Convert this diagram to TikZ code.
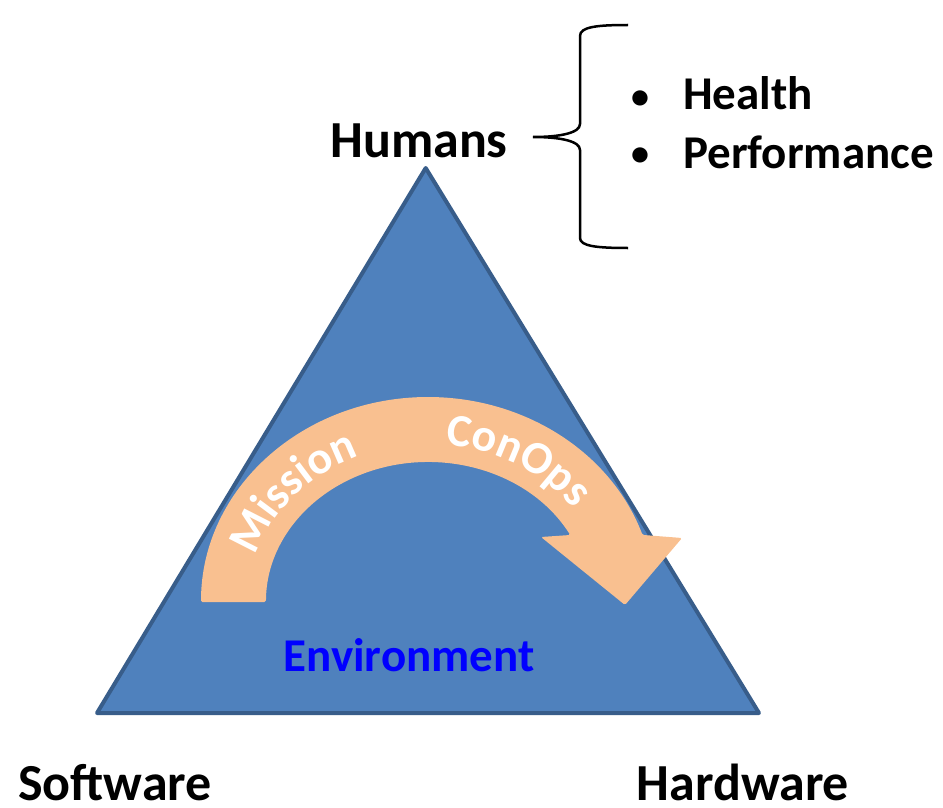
\documentclass[tikz,border=0pt]{standalone}
\usepackage{fontspec}
\setmainfont{Carlito}
\usetikzlibrary{decorations.text}

\definecolor{triFill}{RGB}{79,129,189}
\definecolor{triEdge}{RGB}{56,93,138}
\definecolor{arrowFill}{RGB}{249,192,144}
\definecolor{envBlue}{RGB}{0,0,255}

\newcommand\arcfont{\fontsize{46}{54}\selectfont\bfseries}

\tikzset{
  cornerlabel/.style={font=\fontsize{52}{60}\selectfont\bfseries, inner sep=0pt, anchor=base},
  listitem/.style={font=\fontsize{47}{56}\selectfont\bfseries, inner sep=0pt, anchor=base west},
  bulletmark/.style={font=\fontsize{36}{44}\selectfont\bfseries, inner sep=0pt, anchor=base},
  envlabel/.style={font=\fontsize{47}{56}\selectfont\bfseries, text=envBlue, inner sep=0pt, anchor=base},
  triangle/.style={fill=triFill, draw=triEdge, line width=4pt, line join=round},
  bandarrow/.style={fill=arrowFill, rounded corners=1.5pt},
  arctext/.style={decorate, decoration={text along path, text align=center, text color=white}},
  bracket/.style={draw=black, line width=2.5pt}
}

\begin{document}
\begin{tikzpicture}[x=1pt,y=1pt]
\useasboundingbox (0,0) rectangle (943,-808);

% vertices of the triangle
\coordinate (top) at (425.7,-168);
\coordinate (br) at (759,-713);
\coordinate (bl) at (97,-713);
\draw[triangle] (top) -- (br) -- (bl) -- cycle;

% curved arrow across the triangle
\coordinate (arcC) at (428,-602);
\path[bandarrow] (201,-602)
  arc[start angle=180, end angle=19.1, x radius=227, y radius=205]
  -- (682,-538) -- (625,-605) -- (541,-537) -- (570.2,-535)
  arc[start angle=28.6, end angle=180, x radius=162, y radius=140] -- cycle;

% words set along the arrow
\path[arctext, decoration={text={|\arcfont|Mission}}]
  (arcC) ++(168:180 and 158)
  arc[start angle=168, end angle=108, x radius=180, y radius=158];
\path[arctext, decoration={text={|\arcfont|ConOps}}]
  (arcC) ++(90:180 and 158)
  arc[start angle=90, end angle=30, x radius=180, y radius=158];

% labels
\node[cornerlabel] (humans) at (419,-157) {Humans};
\node[cornerlabel] (software) at (115,-800) {Software};
\node[cornerlabel] (hardware) at (743,-800) {Hardware};
\node[envlabel] (env) at (409,-671) {Environment};

% brace and list
\coordinate (tip) at (533,-137);
\draw[bracket] (628,-25) .. controls (596,-25) and (580,-27) .. (580,-36)
  -- (580,-124) .. controls (580,-133) and (560,-137) .. (tip)
  .. controls (560,-137) and (580,-141) .. (580,-150)
  -- (580,-238) .. controls (580,-246) and (596,-248) .. (628,-248);

\node[bulletmark] (b1) at (640,-108) {•};
\node[bulletmark] (b2) at (640,-165) {•};
\node[listitem] (health) at (683,-110) {Health};
\node[listitem] (perf) at (683,-168) {Performance};
\end{tikzpicture}
\end{document}
